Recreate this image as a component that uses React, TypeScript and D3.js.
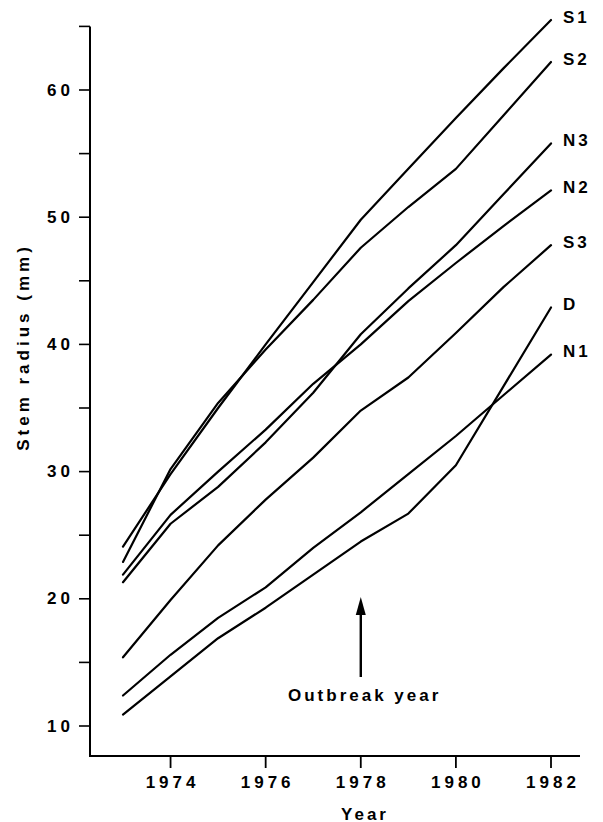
import React from "react";
import * as d3 from "d3";

// Annual stem radius (mm) per tree group, 1973–1982
const years = [1973, 1974, 1975, 1976, 1977, 1978, 1979, 1980, 1981, 1982];
const seriesNames = ["S1", "S2", "N3", "N2", "S3", "D", "N1"];
const S1 = [24.1, 29.8, 35.0, 40.0, 44.9, 49.8, 53.8, 57.8, 61.7, 65.5];
const S2 = [22.9, 30.2, 35.4, 39.6, 43.5, 47.6, 50.8, 53.8, 58.0, 62.2];
const N3 = [21.3, 25.9, 28.8, 32.3, 36.2, 40.8, 44.4, 47.8, 51.8, 55.8];
const N2 = [21.9, 26.6, 30.0, 33.3, 36.9, 40.0, 43.4, 46.4, 49.3, 52.1];
const S3 = [15.4, 19.9, 24.2, 27.8, 31.1, 34.8, 37.4, 40.9, 44.5, 47.8];
const D = [10.9, 13.9, 16.9, 19.3, 21.9, 24.5, 26.7, 30.5, 36.7, 42.9];
const N1 = [12.4, 15.6, 18.5, 20.9, 24.0, 26.8, 29.8, 32.8, 36.0, 39.2];
const seriesValues = [S1, S2, N3, N2, S3, D, N1];

const xTicks = [1974, 1976, 1978, 1980, 1982];
const yMinorTicks = [10, 15, 20, 25, 30, 35, 40, 45, 50, 55, 60, 65];
const yLabelTicks = [10, 20, 30, 40, 50, 60];
const outbreakYear = 1978;

const W = 603;
const H = 822;
const FONT = "'Liberation Sans', Arial, Helvetica, sans-serif";

export default function App() {
  const axisX = 90;
  const axisY = 756;
  const axisRight = 580;

  const x = d3.scaleLinear().domain([1973, 1982]).range([123, 551]);
  const y = d3.scaleLinear().domain([10, 60]).range([726, 90]);

  const line = d3
    .line<number>()
    .x((_, i) => x(years[i]))
    .y((v) => y(v));

  const arrowX = x(outbreakYear);
  const arrowTop = 597;
  const arrowBottom = 677;

  return (
    <svg
      width={W}
      height={H}
      style={{ position: "absolute", left: 0, top: 0, background: "#fff" }}
      fontFamily={FONT}
    >
      <rect width={W} height={H} fill="#fff" />

      {/* axes */}
      <line x1={axisX} y1={y(65)} x2={axisX} y2={axisY + 1} stroke="#000" strokeWidth={2} />
      <line x1={axisX - 1} y1={axisY} x2={axisRight} y2={axisY} stroke="#000" strokeWidth={2} />

      {/* y ticks */}
      {yMinorTicks.map((t) => (
        <line key={"yt" + t} x1={axisX - 11} x2={axisX} y1={y(t)} y2={y(t)} stroke="#000" strokeWidth={1.6} />
      ))}
      {yLabelTicks.map((t) => (
        <text
          key={"yl" + t}
          x={axisX - 16}
          y={y(t)}
          textAnchor="end"
          dominantBaseline="central"
          fontSize={17}
          fontWeight="bold"
          letterSpacing={4}
          fill="#000"
        >
          {t}
        </text>
      ))}

      {/* x ticks */}
      {xTicks.map((t) => (
        <g key={"xt" + t}>
          <line x1={x(t)} x2={x(t)} y1={axisY} y2={axisY + 12} stroke="#000" strokeWidth={1.8} />
          <text
            x={x(t) + 2}
            y={782}
            textAnchor="middle"
            dominantBaseline="central"
            fontSize={17}
            fontWeight="bold"
            letterSpacing={4}
            fill="#000"
          >
            {t}
          </text>
        </g>
      ))}

      {/* axis titles */}
      <text
        x={365}
        y={814}
        textAnchor="middle"
        dominantBaseline="central"
        fontSize={17}
        fontWeight="bold"
        letterSpacing={3}
        fill="#000"
      >
        Year
      </text>
      <text
        transform={`translate(23, 347) rotate(-90)`}
        textAnchor="middle"
        dominantBaseline="central"
        fontSize={17}
        fontWeight="bold"
        letterSpacing={4}
        fill="#000"
      >
        Stem radius (mm)
      </text>

      {/* series lines */}
      {seriesValues.map((vals, i) => (
        <path
          key={seriesNames[i]}
          d={line(vals) || ""}
          fill="none"
          stroke="#000"
          strokeWidth={2.2}
          strokeLinejoin="round"
          strokeLinecap="round"
        />
      ))}

      {/* series labels */}
      {seriesValues.map((vals, i) => (
        <text
          key={"lab" + seriesNames[i]}
          x={x(1982) + 12}
          y={y(vals[vals.length - 1]) - 3}
          dominantBaseline="central"
          fontSize={17}
          fontWeight="bold"
          letterSpacing={3}
          fill="#000"
        >
          {seriesNames[i]}
        </text>
      ))}

      {/* outbreak marker */}
      <line x1={arrowX} x2={arrowX} y1={arrowTop + 14} y2={arrowBottom} stroke="#000" strokeWidth={2.4} />
      <path
        d={`M${arrowX},${arrowTop} L${arrowX - 5},${arrowTop + 18} L${arrowX + 5},${arrowTop + 18} Z`}
        fill="#000"
      />
      <text
        x={288}
        y={695}
        dominantBaseline="central"
        fontSize={17}
        fontWeight="bold"
        letterSpacing={3}
        fill="#000"
      >
        Outbreak year
      </text>
    </svg>
  );
}
